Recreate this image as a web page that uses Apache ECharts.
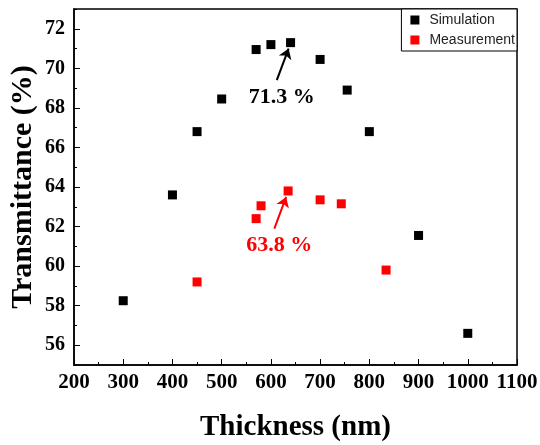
<!DOCTYPE html>
<html>
<head>
<meta charset="utf-8">
<script src="https://cdn.jsdelivr.net/npm/echarts@6/dist/echarts.min.js"></script>
<style>
  html, body { margin: 0; padding: 0; background: #fff; }
  #chart { width: 540px; height: 445px; }
</style>
</head>
<body>
<div id="chart"></div>
<script>
// data
var simThickness = [300, 400, 450, 500, 570, 600, 640, 700, 755, 800, 900, 1000];
var simTrans     = [58.25, 63.6, 66.8, 68.45, 70.95, 71.2, 71.3, 70.45, 68.9, 66.8, 61.55, 56.6];
var measThickness = [450, 570, 580, 635, 700, 743, 834];
var measTrans     = [59.2, 62.4, 63.05, 63.8, 63.35, 63.15, 59.8];
var yTicks = [56, 58, 60, 62, 64, 66, 68, 70, 72];

var serif = '"Liberation Serif", "Times New Roman", serif';

function pairs(xs, ys) {
    var out = [];
    for (var i = 0; i < xs.length; i++) out.push([xs[i], ys[i]]);
    return out;
}

// peak point of a series -> arrow + label just below-left of it
function peakOf(xs, ys) {
    var k = 0;
    for (var i = 1; i < ys.length; i++) if (ys[i] > ys[k]) k = i;
    return [xs[k], ys[k]];
}

function annotate(peak, color) {
    return {
        markLine: {
            silent: true,
            symbol: ['none', 'arrow'],
            symbolSize: 10,
            label: { show: false },
            lineStyle: { color: color, width: 2, type: 'solid', opacity: 1 },
            data: [[
                { coord: [peak[0] - 28, peak[1] - 1.9] },
                { coord: [peak[0] - 4, peak[1] - 0.3] }
            ]]
        },
        markPoint: {
            silent: true,
            symbol: 'rect',
            symbolSize: 0,
            label: {
                show: true,
                position: 'inside',
                formatter: peak[1].toFixed(1) + ' %',
                color: color,
                fontFamily: serif,
                fontWeight: 'bold',
                fontSize: 22
            },
            data: [{ coord: [peak[0] - 18, peak[1] - 2.75] }]
        }
    };
}

var simPeak = peakOf(simThickness, simTrans);
var measPeak = peakOf(measThickness, measTrans);

var simSeries = Object.assign({
    name: 'Simulation',
    type: 'scatter',
    symbol: 'rect',
    symbolSize: 9,
    itemStyle: { color: '#000', opacity: 1 },
    data: pairs(simThickness, simTrans)
}, annotate(simPeak, '#000'));

var measSeries = Object.assign({
    name: 'Measurement',
    type: 'scatter',
    symbol: 'rect',
    symbolSize: 9,
    itemStyle: { color: '#ff0000', opacity: 1 },
    data: pairs(measThickness, measTrans)
}, annotate(measPeak, '#ff0000'));

var chart = echarts.init(document.getElementById('chart'));
chart.setOption({
    animation: false,
    backgroundColor: '#fff',
    grid: {
        left: 74, right: 23, top: 9, bottom: 80,
        outerBoundsMode: 'none',
        containLabel: false,
        show: true, borderColor: '#000', borderWidth: 1.5
    },
    legend: {
        orient: 'vertical',
        right: 23, top: 9,
        icon: 'rect',
        itemWidth: 9, itemHeight: 9,
        itemGap: 6,
        padding: [4, 2, 4, 9],
        borderColor: '#000', borderWidth: 1,
        backgroundColor: '#fff',
        itemStyle: { opacity: 1 },
        textStyle: { fontFamily: '"Liberation Sans", Arial, sans-serif', fontSize: 14, color: '#222', padding: [0, 0, 0, 5] },
        data: ['Simulation', 'Measurement']
    },
    xAxis: {
        type: 'value',
        min: 200, max: 1100, interval: 100,
        name: 'Thickness (nm)',
        nameLocation: 'middle',
        nameGap: 48,
        nameMoveOverlap: false,
        nameTextStyle: { fontFamily: serif, fontWeight: 'bold', fontSize: 29, color: '#000' },
        axisLine: { show: true, onZero: false, lineStyle: { color: '#000', width: 1.5 } },
        axisTick: { show: true, inside: true, length: 6, lineStyle: { color: '#000' } },
        minorTick: { show: true, splitNumber: 2, length: 3, lineStyle: { color: '#000' } },
        axisLabel: {
            fontFamily: serif, fontWeight: 'bold', fontSize: 21, color: '#000', margin: 7,
            formatter: function (v) { return String(v); }
        },
        splitLine: { show: false }
    },
    yAxis: [{
        type: 'value',
        min: 55, max: 73, interval: 1,
        name: 'Transmittance (%)',
        nameLocation: 'middle',
        nameGap: 36,
        nameMoveOverlap: false,
        nameTextStyle: { fontFamily: serif, fontWeight: 'bold', fontSize: 30, color: '#000' },
        axisLine: { show: true, onZero: false, lineStyle: { color: '#000', width: 1.5 } },
        axisTick: { show: true, inside: true, length: 6, customValues: yTicks, lineStyle: { color: '#000' } },
        axisLabel: { customValues: yTicks, fontFamily: serif, fontWeight: 'bold', fontSize: 20, color: '#000', margin: 9 },
        splitLine: { show: false }
    }, {
        // short ticks at every unit
        type: 'value',
        min: 55, max: 73, interval: 1,
        position: 'left',
        axisLine: { show: false },
        axisTick: { show: true, inside: true, length: 3, lineStyle: { color: '#000' } },
        axisLabel: { show: false },
        splitLine: { show: false }
    }],
    series: [simSeries, measSeries]
});
</script>
</body>
</html>
